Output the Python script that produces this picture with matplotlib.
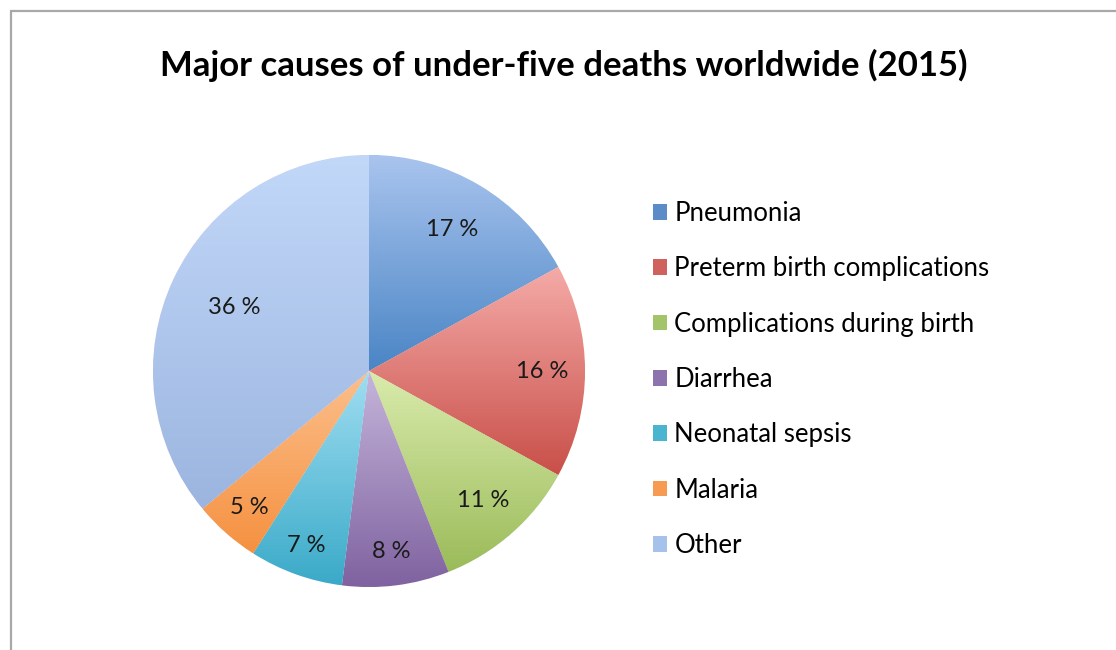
import numpy as np
import matplotlib
matplotlib.use("Agg")
import matplotlib.pyplot as plt
from matplotlib.colors import LinearSegmentedColormap
from matplotlib.patches import Patch, Rectangle

# Daten
causes = ["Pneumonia", "Preterm birth complications", "Complications during birth",
          "Diarrhea", "Neonatal sepsis", "Malaria", "Other"]
shares = [17, 16, 11, 8, 7, 5, 36]

# Farben (oben hell, unten dunkel) wie im Excel-Verlauf
top_colors = ["#a9c4ee", "#f5aba8", "#d9ebac", "#c5b5da", "#a0def2", "#fcbf8c", "#c2d8f9"]
bottom_colors = ["#4a85c5", "#c94f49", "#9bbb59", "#7f62a0", "#3aaac8", "#f59140", "#9bb5df"]
legend_colors = ["#5b8cc8", "#d0625e", "#a4c46a", "#8d73ad", "#4bb5d0", "#f79a52", "#a7c2ea"]
label_radius = [0.76, 0.80, 0.80, 0.84, 0.86, 0.84, 0.69]

plt.rcParams["font.family"] = ["Lato", "DejaVu Sans"]

W, H = 1116, 650
fig = plt.figure(figsize=(W / 100, H / 100), dpi=100)

# Rahmen
fig.patches.append(Rectangle((11 / W, -0.1), 1.2, (H - 11) / H + 0.1, transform=fig.transFigure,
                             fill=False, edgecolor="#a8a8a8", linewidth=1.6))

cx, cy, r = 369, H - 371, 216
ax = fig.add_axes([(cx - r) / W, (cy - r) / H, 2 * r / W, 2 * r / H])

wedges, _ = ax.pie(shares, startangle=90, counterclock=False, radius=1,
                   wedgeprops=dict(edgecolor="white", linewidth=0.6))

# Verlauf pro Segment
grad = np.linspace(0, 1, 256).reshape(-1, 1)
for w, c1, c2 in zip(wedges, top_colors, bottom_colors):
    ext = w.get_path().get_extents()
    cmap = LinearSegmentedColormap.from_list("g", [c2, c1])
    im = ax.imshow(grad, cmap=cmap, origin="lower", aspect="auto",
                   extent=(ext.x0, ext.x1, ext.y0, ext.y1), zorder=w.get_zorder() + 0.1)
    im.set_clip_path(w)
ax.set_xlim(-1, 1)
ax.set_ylim(-1, 1)
ax.set_aspect("equal")

# Beschriftungen
for w, val, d in zip(wedges, shares, label_radius):
    mid = np.deg2rad((w.theta1 + w.theta2) / 2)
    ax.text(d * np.cos(mid), d * np.sin(mid), f"{val} %", ha="center", va="center",
            fontsize=17, color="#1a1a1a", zorder=5)

fig.text(564 / W, 1 - 65 / H, "Major causes of under-five deaths worldwide (2015)",
         ha="center", va="center", fontsize=25, fontweight="bold", color="black")

handles = [Patch(facecolor=c, edgecolor="none") for c in legend_colors]
fig.legend(handles, causes, loc="upper left", bbox_to_anchor=(653 / W, 1 - 201 / H),
           frameon=False, fontsize=18.5, handlelength=0.55, handleheight=0.55,
           handletextpad=0.28, labelspacing=1.18, borderpad=0, borderaxespad=0)

fig.savefig("out.png", dpi=100, facecolor="white")
